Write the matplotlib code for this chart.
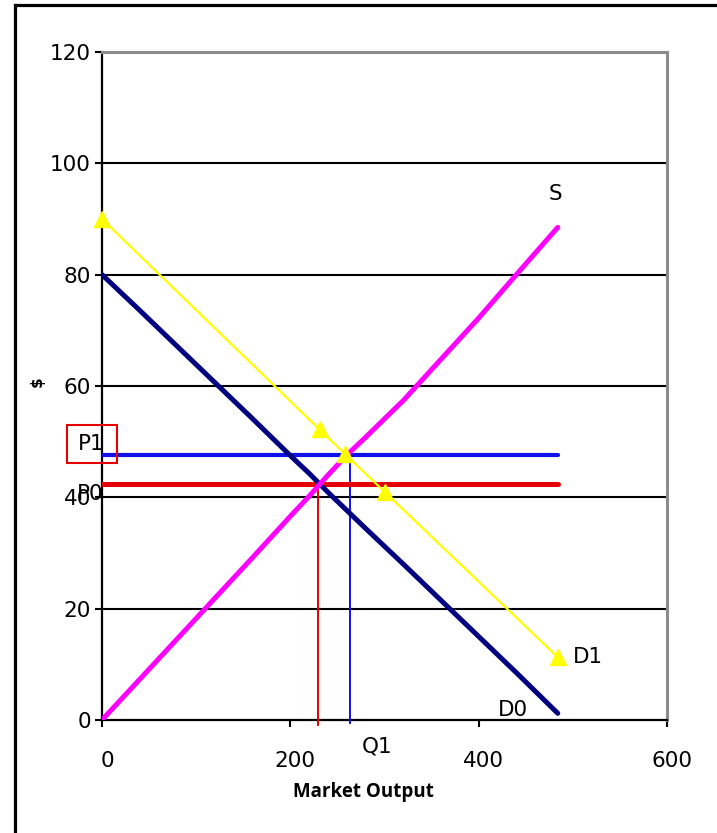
import matplotlib
matplotlib.use("Agg")
import matplotlib.pyplot as plt
from matplotlib.lines import Line2D
from matplotlib.patches import Rectangle
import matplotlib.transforms as mtransforms

# Original demand curve D0
qty_d0 = [0, 40, 80, 120, 160, 200, 220, 240, 280, 320, 360, 400, 440, 484]
price_d0 = [80, 73.6, 67.1, 60.6, 54.1, 47.5, 44.3, 40.9, 34.4, 28, 21.5, 15, 8.5, 1.2]

# Supply curve S
qty_s = [0, 40, 80, 120, 160, 200, 220, 240, 260, 280, 320, 360, 400, 440, 484]
price_s = [0, 7.3, 14.6, 21.9, 29.2, 36.6, 40.2, 44, 47.6, 50.8, 57.4, 64.8, 72.2, 80, 88.5]

# Shifted demand curve D1
qty_d1 = [0, 231, 258, 300, 484]
price_d1 = [90, 52.2, 47.8, 41, 11.3]

# Equilibrium prices and quantities
p0, p1 = 42.4, 47.6
q0, q1 = 229.4, 263
line_end = 484

x_ticks = [0, 200, 400, 600]
y_ticks = [0, 20, 40, 60, 80, 100, 120]

W, H, DPI = 717, 833, 100
fig = plt.figure(figsize=(W / DPI, H / DPI), dpi=DPI)
fig.patch.set_facecolor("white")

# frame around the chart (left and top edges visible)
fig.add_artist(Line2D([15 / W, 15 / W], [-0.01, 1 - 5 / H], color="black", lw=2.3,
                      transform=fig.transFigure, solid_capstyle="projecting"))
fig.add_artist(Line2D([15 / W, 1.01], [1 - 5 / H, 1 - 5 / H], color="black", lw=2.3,
                      transform=fig.transFigure, solid_capstyle="projecting"))

ax = fig.add_axes([102 / W, 1 - 720 / H, (667 - 102) / W, (720 - 52) / H])
ax.set_xlim(0, 600)
ax.set_ylim(0, 120)

# horizontal gridlines
for y in y_ticks[1:-1]:
    ax.axhline(y, color="black", lw=1.5, zorder=1)

ax.spines["left"].set_color("black")
ax.spines["bottom"].set_color("black")
ax.spines["left"].set_linewidth(1.6)
ax.spines["bottom"].set_linewidth(1.6)
ax.spines["top"].set_color("#8c8c8c")
ax.spines["right"].set_color("#8c8c8c")
ax.spines["top"].set_linewidth(2.2)
ax.spines["right"].set_linewidth(2.2)

ax.set_xticks(x_ticks)
ax.set_yticks(y_ticks)
ax.set_xticklabels([str(v) for v in x_ticks])
ax.set_yticklabels([str(v) for v in y_ticks])
ax.tick_params(axis="y", direction="out", length=5, width=1.5, pad=3,
               labelsize=15.5, colors="black")
ax.tick_params(axis="x", direction="out", length=5, width=1.5, pad=17,
               labelsize=15.5, colors="black")
shift = mtransforms.ScaledTranslation(5 / DPI, 0, fig.dpi_scale_trans)
for lbl in ax.get_xticklabels():
    lbl.set_transform(lbl.get_transform() + shift)

# vertical drop lines at equilibrium quantities
ax.plot([q0, q0], [p0, -0.9], color="#e50000", lw=1.4, zorder=3, clip_on=False)
ax.plot([q1, q1], [p1, -0.6], color="#1010e8", lw=1.4, zorder=3, clip_on=False)

# equilibrium price lines
ax.plot([0, line_end], [p1, p1], color="#1010e8", lw=3.0, zorder=4,
        solid_capstyle="round")
ax.plot([0, line_end], [p0, p0], color="#e50000", lw=3.6, zorder=4,
        solid_capstyle="round")

# curves
ax.plot(qty_d0, price_d0, color="#000080", lw=3.6, zorder=5,
        solid_capstyle="round", solid_joinstyle="round")
ax.plot(qty_s, price_s, color="#ff00ff", lw=3.6, zorder=5,
        solid_capstyle="round", solid_joinstyle="round")
ax.plot(qty_d1, price_d1, color="#ffff00", lw=1.6, zorder=6,
        marker="^", markersize=12, markerfacecolor="#ffff00",
        markeredgecolor="#ffff00", clip_on=False)

# labels on the chart
lab = dict(fontsize=15.5, color="black", family="DejaVu Sans")
ax.text(481, 94.5, "S", ha="center", va="center", **lab)
ax.text(500, 11.3, "D1", ha="left", va="center", **lab)
ax.text(420, 1.8, "D0", ha="left", va="center", **lab)
ax.text(-11, 49.6, "P1", ha="center", va="center", clip_on=False, **lab)
ax.text(-12.7, 40.6, "P0", ha="center", va="center", clip_on=False, **lab)
ax.text(292, -4.7, "Q1", ha="center", va="center", clip_on=False, **lab)
ax.add_patch(Rectangle((-37.2, 46.2), 53.1, 6.8, fill=False, edgecolor="#e50000",
                       lw=1.5, clip_on=False, zorder=7))

ax.text(-69, 60.7, "$", rotation=90, ha="center", va="center", fontsize=11,
        fontweight="bold", clip_on=False)
fig.text(363 / W, 1 - 792 / H, "Market Output", ha="center", va="center",
         fontsize=13.5, fontweight="bold", family="Open Sans")

fig.savefig("out.png", dpi=DPI, facecolor="white")
